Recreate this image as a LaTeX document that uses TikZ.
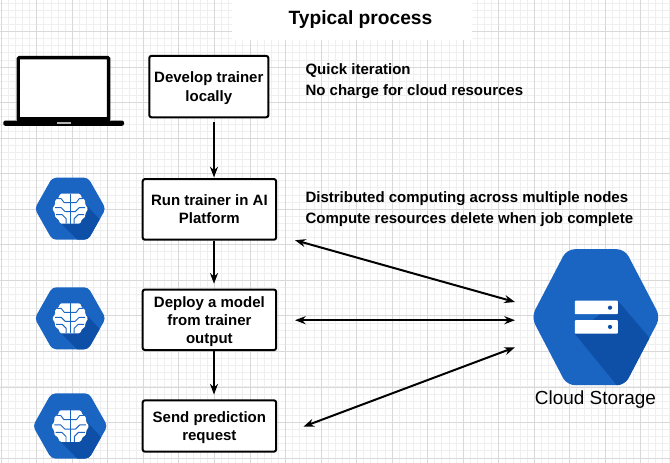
\documentclass[tikz,border=0pt]{standalone}
\usepackage{fontspec}
\setmainfont{Liberation Sans}
\usetikzlibrary{arrows.meta}
\definecolor{gridminor}{HTML}{EFEFEF}
\definecolor{gridmajor}{HTML}{D9D9D9}
\definecolor{gblue}{HTML}{1A64C2}
\definecolor{gdark}{HTML}{0E50A8}
\newcommand{\firstline}[1]{\rule{0pt}{#1}}
\tikzset{
  x=0.75pt,y=-0.75pt,
  boxnode/.style={draw=black,fill=white,line width=1.5pt,rounded corners=1.6pt,inner sep=0pt,align=center,
     font=\fontsize{11.25}{13.5}\selectfont\bfseries},
  flow/.style={draw=black,line width=1.5pt,-{Stealth[length=8pt,width=6pt]}},
  both/.style={draw=black,line width=1.5pt,{Stealth[length=8pt,width=6pt]}-{Stealth[length=8pt,width=6pt]}},
  note/.style={inner sep=0pt,align=left,anchor=north west,font=\fontsize{11.25}{15.75}\selectfont\bfseries},
  brainline/.style={draw=gblue,line width=0.7pt,line join=round},
  pics/aihex/.style={code={
    \path[fill=gblue,rounded corners=3pt] (-18,-31)--(18,-31)--(35.5,0)--(18,31)--(-18,31)--(-35.5,0)--cycle;
    \begin{scope}
      \clip[rounded corners=3pt] (-18,-31)--(18,-31)--(35.5,0)--(18,31)--(-18,31)--(-35.5,0)--cycle;
      \fill[gdark] (-12,12)--(12,36)--(40,36)--(40,22)--(14,-6)--cycle;
    \end{scope}
    \path[fill=white,rounded corners=1pt] (-1,-15)--(-10,-15)--(-12,-10)--(-15,-9)--(-15,-4)--(-18,0)--(-15,5)--(-15,9)--(-12,10)--(-10,15)--(10,15)--(12,10)--(15,9)--(15,5)--(18,0)--(15,-4)--(15,-9)--(12,-10)--(10,-15)--cycle;
    \draw[brainline] (0,-15)--(0,15);
    \foreach \s in {-1,1}{
      \begin{scope}[xscale=\s]
        \draw[brainline] (0,-6)--(6,-6)--(9,-10)--(13,-10);
        \draw[brainline] (0,3)--(5,3)--(9,-1)--(15,-1);
        \draw[brainline] (4,15)--(4,10)--(8,6)--(14,6);
      \end{scope}
    }
  }},
}
\begin{document}
\begin{tikzpicture}
\useasboundingbox (0,0) rectangle (670,463);
\fill[white] (0,0) rectangle (670,463);
% grid
\foreach \k in {0,...,94}{
  \draw[gridminor,line width=0.6pt] ({1.2+7.107*\k},0)--({1.2+7.107*\k},463);
}
\foreach \k in {0,...,65}{
  \draw[gridminor,line width=0.6pt] (0,{3.1+7.107*\k})--(670,{3.1+7.107*\k});
}
\foreach \k in {0,...,18}{
  \draw[gridmajor,line width=0.6pt] ({1.2+35.53*\k},0)--({1.2+35.53*\k},463);
}
\foreach \k in {0,...,12}{
  \draw[gridmajor,line width=0.6pt] (0,{31.6+35.53*\k})--(670,{31.6+35.53*\k});
}
% title
\fill[white] (232,0) rectangle (472,40);
\node[inner sep=0pt,anchor=base,font=\fontsize{14.4}{17}\selectfont\bfseries] (title) at (360.5,25) {Typical process};
% laptop
\draw[black,fill=white,line width=2.5pt,rounded corners=0.8pt] (18.2,57.6) rectangle (108.6,120);
\fill[black,rounded corners=1.5pt] (3.3,120.6) rectangle (124,125.8);
\fill[black] (17,117.5) rectangle (110,122);
\fill[gray!60] (56.7,122.3) rectangle (71,124.3);
% icons
\pic at (70.2,208.7) {aihex};
\pic at (70.2,318.3) {aihex};
\pic[scale=1.05] at (70.2,426) {aihex};
% boxes
\node[boxnode,minimum width=89.3pt,minimum height=46pt] (dev) at (208.8,86.6) {\firstline{10.5pt}Develop trainer\\[0.75pt]locally};
\node[boxnode,minimum width=100pt,minimum height=45.5pt] (run) at (209.4,209.4) {Run trainer in AI\\Platform};
\node[boxnode,minimum width=100pt,minimum height=45.4pt] (deploy) at (209.4,319.8) {\firstline{11.2pt}Deploy a model\\from trainer\\output};
\node[boxnode,minimum width=100pt,minimum height=38.5pt] (send) at (209.4,426) {\firstline{11.2pt}Send prediction\\request};
% notes
\node[note] (n1) at (305.3,63.3) {Quick iteration\\No charge for cloud resources};
\node[note] (n2) at (305.3,191) {Distributed computing across multiple nodes\\Compute resources delete when job complete};
% flow arrows
\coordinate (ax) at (214,0);
\draw[flow,shorten <=2.9pt,shorten >=0.5pt] (dev.south -| ax) -- (run.north -| ax);
\draw[flow] (run.south -| ax) -- ([yshift=3.6pt]deploy.north -| ax);
\draw[flow] (deploy.south -| ax) -- ([yshift=3.6pt]send.north -| ax);
% cloud storage
\begin{scope}[shift={(595.8,317.2)}]
  \path[fill=gblue,rounded corners=6pt] (-29,-68)--(29,-68)--(64.5,0)--(29,68)--(-29,68)--(-64.5,0)--cycle;
  \begin{scope}
    \clip[rounded corners=6pt] (-29,-68)--(29,-68)--(64.5,0)--(29,68)--(-29,68)--(-64.5,0)--cycle;
    \fill[gdark] (-21,16.5)--(21,68)--(21,80)--(70,80)--(70,40)--(22,-16.5)--cycle;
  \end{scope}
  \fill[white,rounded corners=0.6pt] (-21,-16.5) rectangle (22,-3);
  \fill[white,rounded corners=0.6pt] (-21,3) rectangle (22,16.5);
  \fill[gdark] (14.2,-9.5) circle (2.1);
  \fill[gdark] (14.2,9.7) circle (2.1);
\end{scope}
\node[inner sep=0pt,anchor=base,font=\fontsize{14.2}{17}\selectfont] (cs) at (595.5,404.5) {Cloud Storage};
% double arrows
\coordinate (a1) at (295,240.2);
\coordinate (b1) at (515,302);
\coordinate (a2) at (295,320.2);
\coordinate (b2) at (515,320.2);
\coordinate (a3) at (303.5,426.6);
\coordinate (b3) at (515,347.3);
\draw[both] (a1) -- (b1);
\draw[both] (a2) -- (b2);
\draw[both] (a3) -- (b3);
\end{tikzpicture}
\end{document}
